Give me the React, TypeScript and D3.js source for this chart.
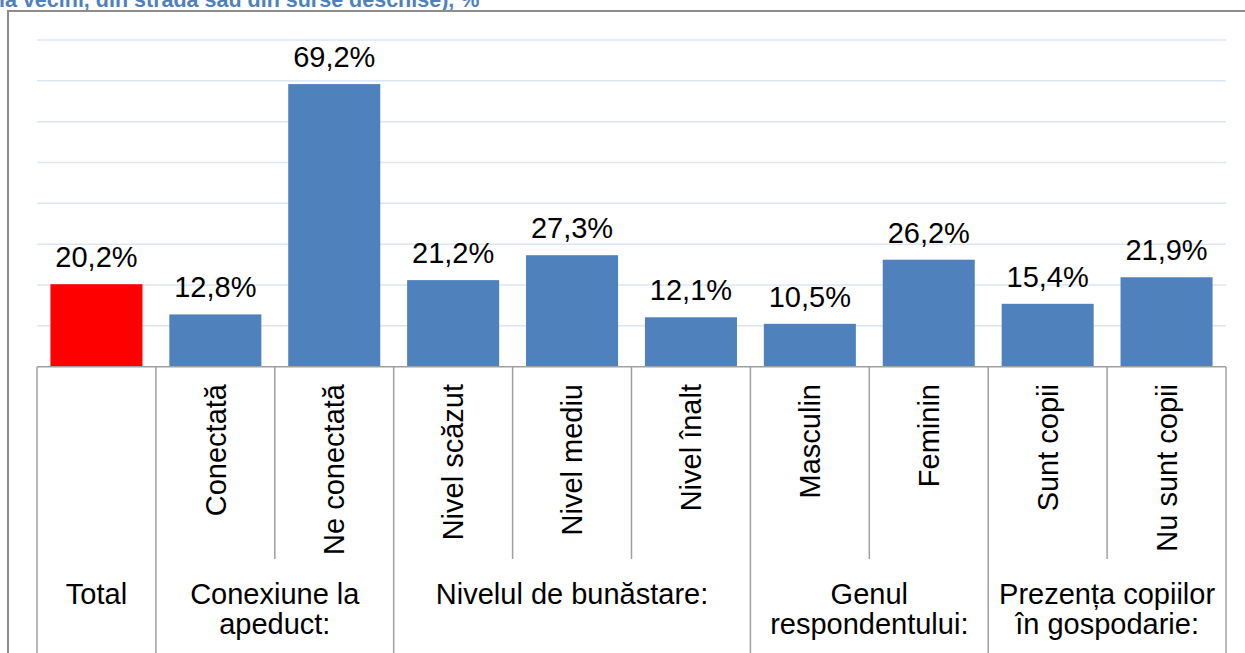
import React, { useEffect, useRef } from 'react';
import * as d3 from 'd3';

// bar categories (bottom row of the axis) and their values, %
const categories = ['Total', 'Conectată', 'Ne conectată', 'Nivel scăzut', 'Nivel mediu', 'Nivel înalt', 'Masculin', 'Feminin', 'Sunt copii', 'Nu sunt copii'];
const values = [20.2, 12.8, 69.2, 21.2, 27.3, 12.1, 10.5, 26.2, 15.4, 21.9];

// groups of the multi-level axis: label lines + how many bars they span
const groupLabels = [['Total'], ['Conexiune la', 'apeduct:'], ['Nivelul de bunăstare:'], ['Genul', 'respondentului:'], ['Prezența copiilor', 'în gospodarie:']];
const groupSizes = [1, 2, 3, 2, 2];

const yTicks = [10, 20, 30, 40, 50, 60, 70, 80];

const title = 'la vecini, din stradă sau din surse deschise), %';

const W = 1245, H = 653;
const FONT = '"Liberation Sans", Arial, sans-serif';
const FS = 29;

const App = () => {
    const svgRef = useRef<SVGSVGElement>(null);

    useEffect(() => {
        const svg = d3.select(svgRef.current);
        svg.selectAll('*').remove();

        const left = 37, right = 1226, top = 40, base = 366.7;

        const x = d3.scaleBand<string>()
            .domain(categories)
            .range([left, right])
            .paddingInner(0.226)
            .paddingOuter(0.113);

        const y = d3.scaleLinear().domain([0, 80]).range([base, top]);

        svg.append('rect').attr('width', W).attr('height', H).attr('fill', '#fff');

        // title (cut at the top of the picture)
        svg.append('text')
            .attr('x', -1).attr('y', 7)
            .attr('font-family', FONT).attr('font-weight', 'bold').attr('font-size', 21.5)
            .attr('fill', '#4F81BD')
            .text(title);

        // chart frame
        svg.append('rect')
            .attr('x', 8).attr('y', 11)
            .attr('width', W + 20).attr('height', H + 20)
            .attr('fill', 'none').attr('stroke', '#8C8C8C').attr('stroke-width', 2);

        // gridlines
        svg.append('g').selectAll('line')
            .data(yTicks)
            .enter().append('line')
            .attr('x1', left).attr('x2', right)
            .attr('y1', (d) => y(d)).attr('y2', (d) => y(d))
            .attr('stroke', '#DCE6F2').attr('stroke-width', 1.5);

        // bars
        svg.append('g').selectAll('rect')
            .data(values)
            .enter().append('rect')
            .attr('x', (d, i) => x(categories[i])!)
            .attr('width', x.bandwidth())
            .attr('y', (d) => y(d))
            .attr('height', (d) => y(0) - y(d))
            .attr('fill', (d, i) => (i === 0 ? '#FF0000' : '#4F81BD'));

        // value labels
        svg.append('g').selectAll('text')
            .data(values)
            .enter().append('text')
            .attr('x', (d, i) => x(categories[i])! + x.bandwidth() / 2)
            .attr('y', (d) => y(d) - 17)
            .attr('text-anchor', 'middle')
            .attr('font-family', FONT).attr('font-size', FS)
            .attr('fill', '#000')
            .text((d) => d.toFixed(1).replace('.', ',') + '%');

        // category axis
        const axis = svg.append('g');
        const step = x.step();
        const edge = (i: number) => left + i * step;

        axis.append('line')
            .attr('x1', left).attr('x2', right)
            .attr('y1', base).attr('y2', base)
            .attr('stroke', '#A0A0A0').attr('stroke-width', 1.5);

        const groupEdges = [0];
        groupSizes.forEach((s) => groupEdges.push(groupEdges[groupEdges.length - 1] + s));

        for (let i = 0; i <= categories.length; i++) {
            const isGroupEdge = groupEdges.includes(i);
            axis.append('line')
                .attr('x1', edge(i)).attr('x2', edge(i))
                .attr('y1', base).attr('y2', isGroupEdge ? H : 559)
                .attr('stroke', '#A0A0A0').attr('stroke-width', 1.5);
        }

        // rotated bar labels (first group has none)
        categories.forEach((c, i) => {
            if (i === 0) return;
            const cx = x(c)! + x.bandwidth() / 2;
            axis.append('text')
                .attr('transform', `translate(${cx},384) rotate(-90)`)
                .attr('dy', '0.35em')
                .attr('text-anchor', 'end')
                .attr('font-family', FONT).attr('font-size', FS)
                .attr('fill', '#000')
                .text(c);
        });

        // group labels
        groupLabels.forEach((lines, g) => {
            const cx = (edge(groupEdges[g]) + edge(groupEdges[g + 1])) / 2;
            const t = axis.append('text')
                .attr('text-anchor', 'middle')
                .attr('font-family', FONT).attr('font-size', FS)
                .attr('fill', '#000');
            lines.forEach((line, k) => {
                t.append('tspan').attr('x', cx).attr('y', 604 + k * 30).text(line);
            });
        });
    }, []);

    return (
        <svg ref={svgRef} width={W} height={H} style={{ position: 'absolute', left: 0, top: 0 }}></svg>
    );
};

export default App;
